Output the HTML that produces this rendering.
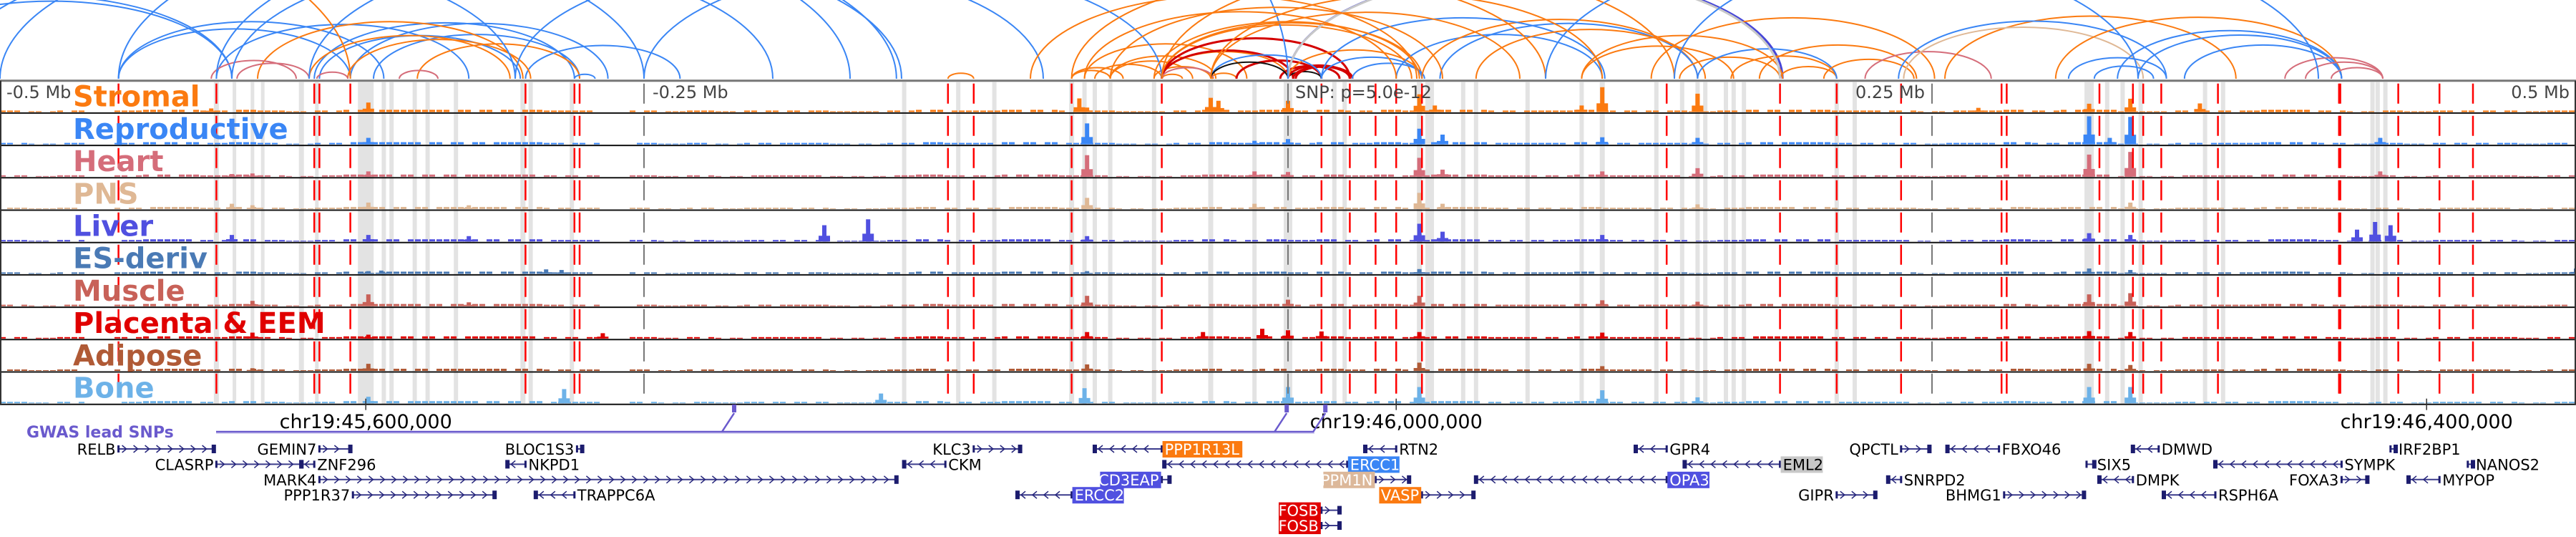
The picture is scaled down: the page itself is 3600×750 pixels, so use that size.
<!DOCTYPE html>
<html><head><meta charset="utf-8"><style>
html,body{margin:0;padding:0;background:#fff;width:3600px;height:750px;overflow:hidden}
svg{display:block}
</style></head><body>
<svg id="fig" width="3600" height="750" viewBox="0 0 3600 750" xmlns="http://www.w3.org/2000/svg">
<g id="arcs"></g>
<g id="bands"></g>
<g id="tracks"></g>
<g id="reds"></g>
<g id="frame"></g>
<g id="labels"></g>
<g id="axis"></g>
<g id="genes"></g>
</svg>
<script>
// ---------- data ----------
const trackNames=["Stromal","Reproductive","Heart","PNS","Liver","ES-deriv","Muscle","Placenta & EEM","Adipose","Bone"];
const trackColors=["#fb7a10","#3a86f5","#d56d7a","#dfb895","#5050e0","#4a7ab5","#c86158","#e00000","#b05a36","#6db2e8"];
// peaks: [position offset from SNP in kb, height in % of track]
const peaksStromal=[[-357,32],[-81,46],[-78,15],[-30,48],[-27,38],[0,38],[51,60],[57,22],[114,22],[122,84],[159,60],[159,62],[268,14],[311,28],[327,45],[354,29],[-418,12]];
const peaksReproductive=[[-357,22],[-78,71],[51,53],[60,33],[122,24],[159,22],[311,95],[327,93],[319,22],[424,22],[0,18],[-13,12]];
const peaksHeart=[[-357,18],[-410,9],[-402,11],[-78,73],[-13,18],[51,64],[60,24],[122,18],[159,29],[311,75],[327,84],[424,18],[0,16]];
const peaksPNS=[[-410,18],[-402,13],[-357,22],[-318,13],[-78,38],[-13,18],[51,55],[60,18],[159,16],[327,22]];
const peaksLiver=[[-410,22],[-357,22],[-318,18],[-180,55],[-163,75],[51,60],[60,33],[122,22],[311,28],[327,22],[415,40],[422,66],[428,55],[-78,18]];
const peaksESderiv=[[-357,9],[-352,11],[-288,15],[-282,13],[51,16],[311,18],[327,13],[500,18],[-78,9]];
const peaksMuscle=[[-357,40],[-402,18],[-318,13],[-78,35],[0,22],[51,35],[122,20],[311,40],[327,44],[159,15]];
const peaksPlacenta=[[-402,20],[-357,13],[-266,18],[-33,22],[-10,33],[0,28],[13,24],[51,22],[122,20],[311,25],[327,22],[-78,22]];
const peaksAdipose=[[-357,24],[-402,9],[-78,22],[51,28],[122,16],[311,24],[327,20]];
const peaksBone=[[-357,22],[-281,48],[-79,51],[0,55],[51,55],[122,44],[159,20],[-158,33],[311,55],[327,55]];
const allPeaks=[peaksStromal,peaksReproductive,peaksHeart,peaksPNS,peaksLiver,peaksESderiv,peaksMuscle,peaksPlacenta,peaksAdipose,peaksBone];
// background coverage level per 40 px bin (px)
const bgLevel=[2,1,2,0,2,3,3,2,3,2,1,2,3,3,3,3,3,3,3,2,2,0,2,1,2,1,2,2,2,1,1,2,3,2,2,3,3,2,2,1,1,2,3,2,3,2,3,2,3,2,3,3,2,2,2,3,2,2,2,1,2,3,3,3,2,2,2,1,2,2,3,2,3,3,1,1,2,2,2,3,3,2,1,2,1,2,2,2,1,2];
// GWAS SNP positions (kb from index SNP)
const snpLines=[-454,-416,-378,-376,-364,-296,-277,-275,-132,-122,-84,-49,13,24,34,42,52,147,191,213,238,277,279,315,328,332,339,361,408,408.5,431,447,460];
const bandPos=[-416,-409,-402,-398,-383,-377,-358,-351,-348,-339,-334,-323,-297,-294,-278,-149,-128,-114,-84,-79,-75,-69,-52,-30,-13,0,18,22,51,55,68,73,93,114,122,143,153,159,162,170,173,177,213,220,311,318,324,331,356,363,421,423,426];
const bandWidth=[7,5,5,5,7,5,22,6,6,6,6,6,7,6,6,6,6,6,7,6,6,6,6,7,6,12,6,6,7,12,6,6,6,6,7,6,6,6,6,6,6,6,6,6,13,6,6,6,6,6,6,6,6];
// arcs: [start kb, end kb, colour key]
const arcStart=[-560,-550,-454,-454,-416,-378,-376,-364,-355,-338,-296,-277,-400,-380,-365,-330,-418,-408,-377,-700,-454,-416,-132,-84,-49,-84,-79,-75,-69,-69,-52,-49,-30,-49,-49,-49,-20,0,-49,-29,0,-3,2,3,0,-49,-30,0,25,13,42,52,59,13,73,114,152,172,191,159,141,114,183,208,224,255,237,239,313,303,298,322,330,348,387,395,405,-30,0,-750,-520,-500,-410,-380,-300,-250,-100,-84,-49,-30,100,150,-79,-69,-30,-52];
const arcEnd=[-410,-410,-351,-364,-318,-277,-298,-264,-275,-275,-236,-269,-297,-302,-294,-345,-385,-380,-365,-364,-170,-152,-122,-64,-41,-69,-16,-49,-37,-28,-30,0,-20,48,2,24,13,13,-29,-30,24,20,24,25,52,52,13,192,53,52,122,159,159,123,162,173,191,213,213,213,251,192,244,243,273,368,341,332,336,341,409,409,409,409,425,425,425,0,191,0,-300,-250,-200,-150,-95,-49,50,100,150,90,330,400,42,60,122,51];
const arcColorKey=["B","B","B","B","B","B","B","B","B","O","B","B","O","O","O","H","H","H","H","O","B","B","O","O","O","O","O","O","O","O","O","O","O","O","R","R","R","K","H","O","R","R","R","R","O","O","B","D","B","B","B","O","B","B","O","O","O","O","O","B","O","O","O","O","H","O","B","T","B","B","O","B","B","B","H","H","H","K","G","B","B","B","B","B","B","B","O","O","O","O","B","B","O","O","O","O"];

const chrTicks=["chr19:45,600,000","chr19:46,000,000","chr19:46,400,000"];
const chrTickKb=[-358,42,442];
const rulerLabels=["-0.5 Mb","-0.25 Mb","0.25 Mb","0.5 Mb"];
const rulerKb=[-500,-250,250,500];
const gwasSnpKb=[-215,-0.5,14.5];
// genes
const geneName=["RELB","GEMIN7","BLOC1S3","KLC3","PPP1R13L","RTN2","GPR4","QPCTL","FBXO46","DMWD","IRF2BP1","CLASRP","ZNF296","NKPD1","CKM","ERCC1","EML2","SIX5","SYMPK","NANOS2","MARK4","CD3EAP","PPM1N","OPA3","SNRPD2","DMPK","FOXA3","MYPOP","PPP1R37","TRAPPC6A","ERCC2","VASP","GIPR","BHMG1","RSPH6A","FOSB","FOSB"];
const geneStart=[-454,-376,-276,-122,-75,30,135,238,256,328,428,-416,-383,-303,-149,-48,154,310,360,458,-376,-49,34,73,233,315,409,435,-363,-292,-105,52,213,278,340,13,13];
const geneEnd=[-417,-364,-274,-104,-49,42,147,249,276,338,430,-383,-378,-296,-133,23,191,313,409,460,-152,-46,47,147,238,328,419,447,-308,-277,-84,72,228,309,360,20,20];
const geneStrand=[1,1,1,1,-1,-1,-1,1,-1,-1,1,1,-1,-1,-1,-1,-1,1,-1,1,1,1,1,-1,-1,-1,1,-1,1,-1,-1,1,1,1,-1,1,1];
const geneRow=[0,0,0,0,0,0,0,0,0,0,0,1,1,1,1,1,1,1,1,1,2,2,2,2,2,2,2,2,3,3,3,3,3,3,3,4,5];
const geneSide=["L","L","L","L","R","R","R","L","R","R","R","L","R","R","R","R","R","R","R","R","L","L","L","R","R","R","L","R","L","R","R","L","L","L","R","L","L"];
const geneBg=["","","","","#fb7a10","","","","","","","","","","","#3a86f5","#c8c8c8","","","","","#5050e0","#dcb89a","#5050e0","","","","","","","#5050e0","#fb7a10","","","","#e00000","#e00000"];

// ---------- scales ----------
const X=kb=>1800+kb*3.6;
const TOP=112.7, TH=45.2, NT=10, BOT=TOP+TH*NT;
const ARCBASE=110;
const rowY=r=>627+r*21.4;
const NS="http://www.w3.org/2000/svg";
function mk(tag,attrs,parent){const e=document.createElementNS(NS,tag);for(const k in attrs)e.setAttribute(k,attrs[k]);parent.appendChild(e);return e;}
const colorMap={B:"#3a86f5",O:"#fb7a10",H:"#d56d7a",R:"#d40000",K:"#111",D:"#4646d8",G:"#c8c8c8",T:"#dfb895"};

// arcs
const gArcs=document.getElementById('arcs');
arcStart.forEach((s,i)=>{
  const x1=X(s),x2=X(arcEnd[i]);const a=Math.min(x1,x2),b=Math.max(x1,x2);
  const rx=(b-a)/2, ry=(b-a)*0.215;
  const c=arcColorKey[i];
  const p=mk('path',{d:`M${a},${ARCBASE} A${rx},${ry} 0 0 1 ${b},${ARCBASE}`,fill:"none",stroke:colorMap[c],"stroke-width":(c==="R"||c==="G"||c==="D")?3:2},gArcs);
  
  
});

// bands
const gBands=document.getElementById('bands');
bandPos.forEach((kb,i)=>{
  const r=mk('rect',{x:X(kb)-bandWidth[i]/2,y:TOP+2,width:bandWidth[i],height:BOT-TOP-2,fill:"#e3e3e3"},gBands);
  
  
});

// tracks
const gTracks=document.getElementById('tracks');
for(let t=0;t<NT;t++){
  const base=TOP+TH*(t+1)-1.5;
  const g=mk('g',{},gTracks);
  
  
  bgLevel.forEach((h,i)=>{
    if(h<=0)return;
    for(let k=0;k<4;k++){
      if((i+k+t)%5===3)continue;
      const r=mk('rect',{x:i*40+k*10,y:base-h,width:8,height:h,fill:trackColors[t]},g);
      
      
    }
  });
  allPeaks[t].forEach(([kb,pct])=>{
    const h=pct/100*(TH-4);
    const r=mk('rect',{x:X(kb)-3,y:base-h,width:6,height:h,fill:trackColors[t]},g);
    
    
    const r2=mk('rect',{x:X(kb)-8,y:base-h*0.35,width:16,height:h*0.35,fill:trackColors[t]},g);
    
    
  });
}

// red snp lines
const gReds=document.getElementById('reds');
snpLines.forEach(kb=>{
  const l=mk('line',{x1:X(kb),x2:X(kb),y1:TOP,y2:BOT,stroke:"#f00","stroke-width":2.5,"stroke-dasharray":"28,17","stroke-dashoffset":"-4"},gReds);
  
  
});

// frame
const gFrame=document.getElementById('frame');
mk('line',{x1:0,x2:3600,y1:TOP,y2:TOP,stroke:"#777","stroke-width":3},gFrame);
for(let t=1;t<=NT;t++){mk('line',{x1:0,x2:3600,y1:TOP+TH*t,y2:TOP+TH*t,stroke:"#111","stroke-width":2},gFrame);}
mk('line',{x1:1,x2:1,y1:TOP,y2:BOT,stroke:"#333","stroke-width":2},gFrame);
mk('line',{x1:3599,x2:3599,y1:TOP,y2:BOT,stroke:"#333","stroke-width":2},gFrame);
[-250,0,250].forEach(kb=>{
  const l=mk('line',{x1:X(kb),x2:X(kb),y1:TOP,y2:BOT,stroke:"#777","stroke-width":2,"stroke-dasharray":"28,17","stroke-dashoffset":"-4"},gFrame);
  
  
});

// labels
const gLab=document.getElementById('labels');
trackNames.forEach((n,t)=>{
  const tx=mk('text',{x:102,y:TOP+TH*t+36,fill:trackColors[t],"font-family":"DejaVu Sans, sans-serif","font-weight":"bold","font-size":40},gLab);
  tx.textContent=n;
  
  
});
rulerLabels.forEach((s,i)=>{
  const kb=rulerKb[i];
  let x=X(kb)+12, anchor="start";
  if(kb===-500){x=9;}
  if(kb===250){x=X(kb)-10;anchor="end";}
  if(kb===500){x=3591;anchor="end";}
  const tx=mk('text',{x:x,y:137,fill:"#444","font-family":"DejaVu Sans, sans-serif","font-size":24,"text-anchor":anchor},gLab);
  tx.textContent=s;
  
  
});
const snpT=mk('text',{x:1810,y:137,fill:"#444","font-family":"DejaVu Sans, sans-serif","font-size":24},gLab);
snpT.textContent="SNP: p=5.0e-12";



// axis
const gAx=document.getElementById('axis');
chrTicks.forEach((s,i)=>{
  const x=X(chrTickKb[i]);
  mk('line',{x1:x,x2:x,y1:BOT-8,y2:BOT+8,stroke:"#333","stroke-width":1.5},gAx);
  const tx=mk('text',{x:x,y:598,"text-anchor":"middle",fill:"#000","font-family":"DejaVu Sans, sans-serif","font-size":27},gAx);
  tx.textContent=s;
  
  
});
const gw=mk('text',{x:37,y:611,fill:"#6a5acd","font-family":"DejaVu Sans, sans-serif","font-weight":"bold","font-size":22},gAx);
gw.textContent="GWAS lead SNPs";


mk('rect',{x:302,y:602,width:1535,height:4,fill:"#d8d4f2"},gAx);
const s0=X(gwasSnpKb[0]),s1=X(gwasSnpKb[1]),s2=X(gwasSnpKb[2]);
const gl=mk('path',{d:`M302,603 L${s0-17},603 L${s0},577 M${s0-17},603 L${s1-17},603 L${s1},577 M${s1-17},603 L${s2-17},603 L${s2},577`,fill:"none",stroke:"#6a5acd","stroke-width":2.5},gAx);


gwasSnpKb.forEach(kb=>{
  const r=mk('rect',{x:X(kb)-3,y:565,width:6,height:11,fill:"#6a5acd"},gAx);
  
  
});

// genes
const gG=document.getElementById('genes');
geneName.forEach((n,i)=>{
  const g=mk('g',{},gG);
  
  
  const a=X(geneStart[i]),b=X(geneEnd[i]),y=rowY(geneRow[i]);
  mk('line',{x1:a,x2:b,y1:y,y2:y,stroke:"#3c3c8c","stroke-width":2},g);
  const st=geneStrand[i];
  for(let x=a+8;x<b-6;x+=16){
    mk('path',{d:st>0?`M${x-3},${y-5} L${x+3},${y} L${x-3},${y+5}`:`M${x+3},${y-5} L${x-3},${y} L${x+3},${y+5}`,fill:"none",stroke:"#24247a","stroke-width":1.5},g);
  }
  const endBox=st>0?b:a;
  mk('rect',{x:endBox-3,y:y-6,width:6,height:12,fill:"#1c1c6e"},g);
  mk('rect',{x:(st>0?a:b)-1.5,y:y-5,width:3,height:10,fill:"#1c1c6e"},g);
  const side=geneSide[i];
  const tx=mk('text',{x:side==="L"?a-4:b+4,y:y+8,"text-anchor":side==="L"?"end":"start","font-family":"DejaVu Sans, sans-serif","font-size":21,fill:geneBg[i]&&geneBg[i]!=="#c8c8c8"?"#fff":"#000"},g);
  tx.textContent=n;
  if(geneBg[i]){
    const w=n.length*13.2+6;
    const rx=side==="L"?a-4-w+3:b+1;
    const bg=mk('rect',{x:rx,y:y-11,width:w,height:23,fill:geneBg[i]},g);
    g.insertBefore(bg,tx);
  }
});
</script>
</body></html>
